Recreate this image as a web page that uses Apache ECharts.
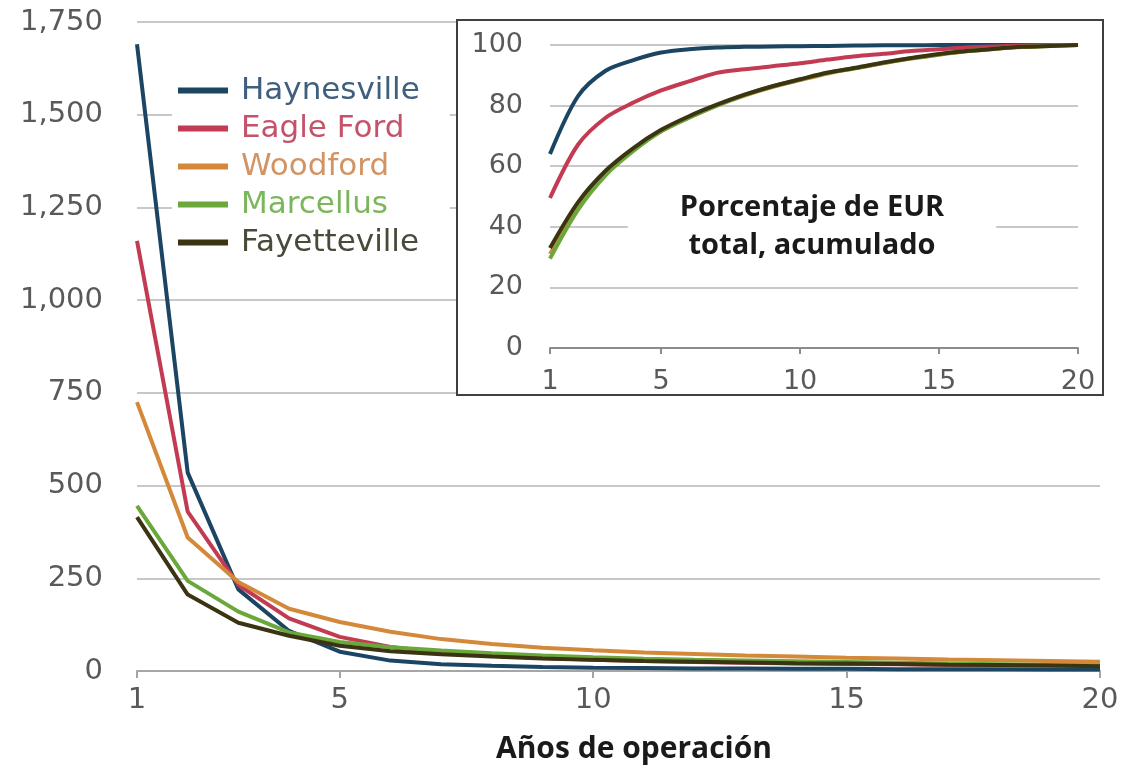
<!DOCTYPE html>
<html>
<head>
<meta charset="utf-8">
<script src="https://cdn.jsdelivr.net/npm/echarts@6/dist/echarts.min.js"></script>
<style>html,body{margin:0;padding:0;background:#fff}#c{width:1128px;height:767px}</style>
</head>
<body>
<div id="c"></div>
<script>
// ---- data ----
var years = ['1','2','3','4','5','6','7','8','9','10','11','12','13','14','15','16','17','18','19','20'];
var seriesNames = ['Haynesville','Eagle Ford','Woodford','Marcellus','Fayetteville'];
// annual production (main chart)
var haynesville  = [1690, 535, 220, 108, 52, 28, 18, 14, 11, 9, 8, 7, 7, 6, 6, 5, 5, 5, 4, 4];
var eagleFord    = [1160, 430, 232, 142, 92, 65, 50, 41, 35, 30, 27, 24, 22, 20, 19, 18, 17, 16, 15, 14];
var woodford     = [725, 360, 240, 168, 132, 106, 86, 73, 63, 56, 50, 46, 42, 39, 36, 34, 31, 29, 27, 25];
var marcellus    = [445, 243, 160, 104, 78, 64, 55, 48, 42, 37, 33, 30, 28, 26, 24, 22, 20, 18, 16, 15];
var fayetteville = [415, 206, 130, 95, 68, 53, 45, 39, 34, 30, 27, 25, 23, 21, 20, 19, 17, 16, 15, 13];
// cumulative % of total EUR (inset)
var haynesvilleCum  = [64, 83, 91.5, 95, 97.5, 98.6, 99.2, 99.4, 99.5, 99.6, 99.7, 99.8, 99.9, 99.9, 100, 100, 100, 100, 100, 100];
var eagleFordCum    = [49.5, 67, 76, 81, 85, 88, 90.8, 92, 93, 94, 95.2, 96.3, 97.1, 98, 98.6, 99.2, 99.5, 99.8, 100, 100];
var woodfordCum     = [31, 46, 57.5, 65.5, 71.5, 76, 80, 83.3, 86.1, 88.4, 90.6, 92.3, 94, 95.5, 96.8, 97.9, 98.7, 99.3, 99.7, 100];
var marcellusCum    = [29.5, 45.5, 57, 65, 71.5, 76, 80, 83.5, 86.3, 88.6, 90.8, 92.4, 94.1, 95.6, 96.9, 98, 98.8, 99.4, 99.7, 100];
var fayettevilleCum = [33, 48, 58.5, 66, 72, 76.5, 80.3, 83.6, 86.4, 88.7, 90.9, 92.5, 94.2, 95.7, 97, 98, 98.8, 99.4, 99.7, 100];
var xTickLabels = ['1','5','10','15','20'];
var mainYTicks = [0, 250, 500, 750, 1000, 1250, 1500, 1750];
var insetYTicks = [0, 20, 40, 60, 80, 100];
var xTitle = 'Años de operación';
var insetTitle = 'Porcentaje de EUR\ntotal, acumulado';

// ---- styles ----
var colors = ['#1b4562', '#c23b52', '#d4893a', '#6aa83c', '#3b3413'];
var legendTextColors = ['#3f5f7f', '#c4536a', '#d39465', '#7cb65c', '#4a4a3a'];
var numFont = 'DejaVu Sans';
var labelColor = '#595959';
var mainData = [haynesville, eagleFord, woodford, marcellus, fayetteville];
var cumData = [haynesvilleCum, eagleFordCum, woodfordCum, marcellusCum, fayettevilleCum];

function showTick(idx, val) { return xTickLabels.indexOf(String(val)) >= 0; }

var series = [];
seriesNames.forEach(function (n, i) {
  series.push({
    name: n, type: 'line', xAxisIndex: 0, yAxisIndex: 0,
    data: mainData[i], showSymbol: false, symbol: 'none', smooth: false,
    lineStyle: { width: 4, color: colors[i] }, itemStyle: { color: colors[i] }, z: 2
  });
});
seriesNames.forEach(function (n, i) {
  series.push({
    name: n, type: 'line', xAxisIndex: 1, yAxisIndex: 1,
    data: cumData[i], showSymbol: false, symbol: 'none', smooth: 0.3,
    lineStyle: { width: 4, color: colors[i] }, itemStyle: { color: colors[i] }, z: 6
  });
});

var chart = echarts.init(document.getElementById('c'), null, { renderer: 'canvas' });
chart.setOption({
  animation: false,
  backgroundColor: '#ffffff',
  grid: [
    { left: 137, right: 28, top: 22, bottom: 96, containLabel: false },
    { left: 550, right: 50, top: 45, bottom: 419, containLabel: false }
  ],
  xAxis: [
    {
      type: 'category', gridIndex: 0, data: years, boundaryGap: false,
      axisLine: { lineStyle: { color: '#a6a6a6', width: 2 } },
      axisTick: { show: true, interval: showTick, length: 7, lineStyle: { color: '#a6a6a6', width: 2 } },
      axisLabel: { interval: showTick, margin: 15, fontSize: 29, fontFamily: numFont, color: labelColor },
      splitLine: { show: false }
    },
    {
      type: 'category', gridIndex: 1, data: years, boundaryGap: false, z: 3,
      axisLine: { lineStyle: { color: '#8c8c8c', width: 2 } },
      axisTick: { show: true, interval: showTick, length: 6, lineStyle: { color: '#8c8c8c', width: 2 } },
      axisLabel: { interval: showTick, margin: 20, fontSize: 27, fontFamily: numFont, color: labelColor },
      splitLine: { show: false }
    }
  ],
  yAxis: [
    {
      type: 'value', gridIndex: 0, min: 0, max: 1750, interval: 250,
      axisLine: { show: false }, axisTick: { show: false },
      axisLabel: {
        margin: 34, fontSize: 29, fontFamily: numFont, color: labelColor,
        formatter: function (v) { return mainYTicks.indexOf(v) >= 0 ? v.toLocaleString('en-US') : ''; }
      },
      splitLine: { lineStyle: { color: '#c8c8c8', width: 2 } }
    },
    {
      type: 'value', gridIndex: 1, min: 0, max: 100, interval: 20, z: 3,
      axisLine: { show: false }, axisTick: { show: false },
      axisLabel: {
        margin: 27, fontSize: 27, fontFamily: numFont, color: labelColor,
        formatter: function (v) { return insetYTicks.indexOf(v) >= 0 ? String(v) : ''; }
      },
      splitLine: { lineStyle: { color: '#c8c8c8', width: 2 } }
    }
  ],
  legend: {
    orient: 'vertical', left: 172, top: 69, z: 1,
    backgroundColor: '#ffffff', padding: [6, 30, 6, 6],
    itemWidth: 50, itemHeight: 6, itemGap: 7,
    icon: 'rect',
    selectedMode: false,
    textStyle: { fontSize: 31, fontFamily: numFont, padding: [0, 0, 0, 8] },
    data: seriesNames.map(function (n, i) {
      return { name: n, textStyle: { color: legendTextColors[i] } };
    })
  },
  graphic: [
    {
      type: 'rect', z: 1, zlevel: 0,
      shape: { x: 457, y: 20, width: 646, height: 375 },
      style: { fill: '#ffffff', stroke: '#404040', lineWidth: 2 }
    },
    {
      type: 'text', z: 10,
      x: 812, y: 227,
      style: {
        text: insetTitle, fontFamily: 'Open Sans', fontWeight: 'bold', fontSize: 29,
        fill: '#1a1a1a', align: 'center', verticalAlign: 'middle', lineHeight: 38,
        backgroundColor: '#ffffff', padding: [0, 52, 0, 52]
      }
    },
    {
      type: 'text', z: 10,
      x: 634, y: 749,
      style: {
        text: xTitle, fontFamily: 'Open Sans', fontWeight: 'bold', fontSize: 30,
        fill: '#1a1a1a', align: 'center', verticalAlign: 'middle'
      }
    }
  ],
  series: series
});
</script>
</body>
</html>
